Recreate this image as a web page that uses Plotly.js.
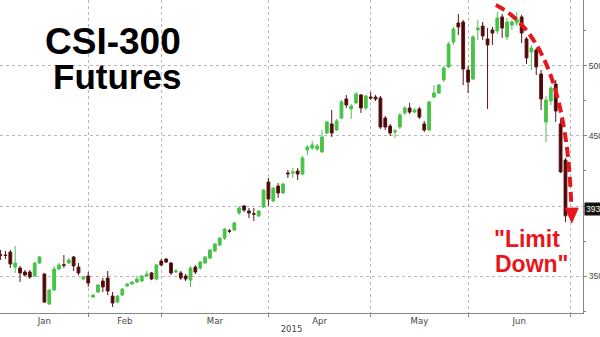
<!DOCTYPE html>
<html>
<head>
<meta charset="utf-8">
<script src="https://cdn.plot.ly/plotly-3.0.1.min.js"></script>
<style>html,body{margin:0;padding:0;background:#fff;}#chart{width:600px;height:337px;}</style>
</head>
<body>
<div id="chart"></div>
<script>
// Trading-day candles, Jan–Jun 2015 (CSI-300 futures)
const openP = [3652,3650,3671,3564,3557,3529,3529,3500,3593,3514,
  3300,3400,3550,3580,3593,3636,3564,3479,3500,3350,
  3386,3464,3486,3357,3314,3364,3429,3443,3457,3464,
  3500,3522,3479,3607,3621,3593,3529,3522,3500,3471,
  3564,3557,3593,3628,3679,3721,3771,3823,3829,3950,
  4000,3964,3945,3929,3993,4171,4036,4143,4093,4236,
  4236,4250,4228,4400,4414,4407,4386,4521,4586,4543,
  4628,4764,4693,4736,4793,4700,4778,4778,4771,4628,
  4571,4528,4564,4664,4700,4671,4693,4586,4543,4778,
  4807,4900,4993,5171,5307,5314,4971,4907,5257,5285,
  5193,5257,5250,5350,5207,5292,5307,5350,5193,5100,
  5114,4943,4600,4750,4871,4586,4328];
const highP = [3686,3679,3686,3714,3572,3543,3543,3600,3643,3522,
  3407,3572,3593,3650,3628,3643,3593,3500,3529,3372,
  3443,3486,3536,3386,3364,3414,3450,3464,3500,3507,
  3536,3529,3586,3621,3628,3600,3550,3536,3514,3572,
  3579,3607,3643,3693,3736,3779,3843,3836,3886,4000,
  4007,3986,3986,3971,4121,4200,4136,4164,4164,4257,
  4271,4271,4357,4436,4464,4443,4543,4607,4686,4621,
  4757,4793,4728,4814,4800,4793,4814,4793,4786,4643,
  4586,4550,4664,4714,4736,4700,4707,4607,4750,4864,
  4871,5000,5171,5278,5371,5328,5000,5221,5328,5314,
  5271,5278,5385,5371,5342,5328,5385,5364,5207,5150,
  5128,4971,4786,4857,4900,4621,4343];
const lowP = [3614,3621,3557,3522,3457,3500,3479,3493,3586,3307,
  3293,3393,3543,3557,3586,3536,3507,3471,3422,3343,
  3379,3386,3364,3279,3307,3357,3422,3436,3450,3457,
  3493,3471,3471,3572,3593,3507,3522,3471,3464,3422,
  3514,3543,3586,3621,3671,3714,3757,3807,3821,3936,
  3957,3914,3893,3921,3986,4000,4028,4057,4086,4200,
  4200,4186,4221,4364,4400,4393,4379,4514,4493,4536,
  4621,4700,4621,4728,4664,4686,4757,4750,4550,4543,
  4500,4485,4550,4650,4657,4664,4621,4528,4536,4771,
  4800,4885,4985,5150,5221,4864,4807,4900,5185,5185,
  4693,5150,5228,5200,5185,5257,5285,5164,5014,4971,
  4935,4686,4457,4721,4600,4236,3886];
const closeP = [3648,3647,3586,3593,3522,3507,3493,3593,3636,3314,
  3400,3550,3579,3577,3614,3572,3522,3493,3450,3364,
  3436,3422,3393,3307,3357,3407,3443,3457,3479,3500,
  3514,3479,3579,3579,3600,3522,3536,3486,3479,3557,
  3529,3600,3636,3686,3729,3771,3836,3820,3879,3986,
  3971,3950,3942,3964,4114,4050,4128,4093,4157,4230,
  4243,4228,4343,4421,4436,4428,4493,4600,4521,4607,
  4743,4721,4714,4800,4700,4786,4771,4764,4564,4564,
  4521,4536,4650,4700,4671,4686,4635,4543,4743,4807,
  4864,4985,5157,5264,5278,4978,4885,5207,5271,5214,
  5150,5235,5342,5271,5314,5314,5335,5235,5057,5128,
  4993,4764,4757,4843,4678,4243,3930];

// Month labels and the trading-day index where each month begins
const months = ['Jan','Feb','Mar','Apr','May','Jun'];
const monthStarts = [0,18,33,55,76,96];
const monthEnd = 117;
const yearLabel = '2015';

const dayIdx = openP.map((_, i) => i);
const bounds = monthStarts.slice(1).concat([monthEnd]);
const monthMid = monthStarts.map((s, k) => (s + bounds[k]) / 2);
const lastClose = closeP[closeP.length - 1];

const RED = '#e8161b';
const FONT = 'DejaVu Sans, sans-serif';
const AXFONT = 'Liberation Sans, Arial, sans-serif';

const trace = {
  type: 'candlestick',
  x: dayIdx, open: openP, high: highP, low: lowP, close: closeP,
  increasing: {line: {color: '#4cc24c', width: 1}, fillcolor: '#44c444'},
  decreasing: {line: {color: '#5a1414', width: 1}, fillcolor: '#4a0505'},
  whiskerwidth: 0,
  hoverinfo: 'skip'
};

const layout = {
  width: 600, height: 337,
  margin: {l: 0, r: 17, t: 0, b: 24},
  paper_bgcolor: '#fff', plot_bgcolor: '#fff',
  showlegend: false, hovermode: false,
  boxgap: 0.18,
  xaxis: {
    range: [-0.12, 119.6],
    rangeslider: {visible: false},
    tickmode: 'array', tickvals: monthMid, ticktext: months,
    ticks: '', showgrid: false, zeroline: false,
    showline: true, linecolor: '#888', linewidth: 1,
    tickfont: {family: FONT, size: 8.5, color: '#444'},
    title: {text: yearLabel, font: {family: FONT, size: 8.5, color: '#444'}, standoff: 0},
    minor: {tickmode: 'array', tickvals: bounds, ticks: 'outside', ticklen: 3,
            tickcolor: '#888', showgrid: true, gridcolor: '#b8b8b8', griddash: 'dot', gridwidth: 1}
  },
  yaxis: {
    side: 'right', range: [3236, 5471],
    tick0: 0, dtick: 500, ticks: 'outside', ticklen: 3, tickcolor: '#888',
    showgrid: true, gridcolor: '#b8b8b8', griddash: 'dot', gridwidth: 1,
    zeroline: false, showline: true, linecolor: '#888', linewidth: 1,
    tickfont: {family: AXFONT, size: 8.5, color: '#444'},
    minor: {dtick: 250, ticks: 'outside', ticklen: 2, tickcolor: '#888', showgrid: false}
  },
  shapes: [
    {type: 'path', xref: 'x', yref: 'y', layer: 'above',
     path: 'M 101.7,5435 Q 116.1,5185 117.2,3995',
     line: {color: RED, width: 4, dash: '10px,5px'}},
    {type: 'path', xref: 'x', yref: 'y', layer: 'above',
     path: 'M 116.0,3985 L 118.6,3985 L 117.3,3880 Z',
     fillcolor: RED, line: {color: RED, width: 1}}
  ],
  annotations: [
    {xref: 'paper', yref: 'paper', x: 113/583, y: 1 - 42/313, xanchor: 'center', yanchor: 'middle',
     text: 'CSI-300', showarrow: false,
     font: {family: 'Liberation Sans, Arial, sans-serif', size: 37, color: '#000', weight: 'bold'}},
    {xref: 'paper', yref: 'paper', x: 117/583, y: 1 - 77/313, xanchor: 'center', yanchor: 'middle',
     text: 'Futures', showarrow: false,
     font: {family: 'Liberation Sans, Arial, sans-serif', size: 35, color: '#000', weight: 'bold'}},
    {xref: 'paper', yref: 'paper', x: 527/583, y: 1 - 239/313, xanchor: 'center', yanchor: 'middle',
     text: '"Limit', showarrow: false,
     font: {family: 'Liberation Sans, Arial, sans-serif', size: 23, color: RED, weight: 'bold'}},
    {xref: 'paper', yref: 'paper', x: 532/583, y: 1 - 264/313, xanchor: 'center', yanchor: 'middle',
     text: 'Down"', showarrow: false,
     font: {family: 'Liberation Sans, Arial, sans-serif', size: 23, color: RED, weight: 'bold'}},
    {xref: 'paper', yref: 'y', x: 1, y: lastClose, yshift: 7, xanchor: 'left', yanchor: 'middle',
     xshift: 1, text: String(lastClose), showarrow: false, bgcolor: '#111', borderpad: 1,
     font: {family: AXFONT, size: 8.5, color: '#fff'}}
  ]
};

Plotly.newPlot('chart', [trace], layout, {displayModeBar: false, staticPlot: true});
</script>
</body>
</html>
